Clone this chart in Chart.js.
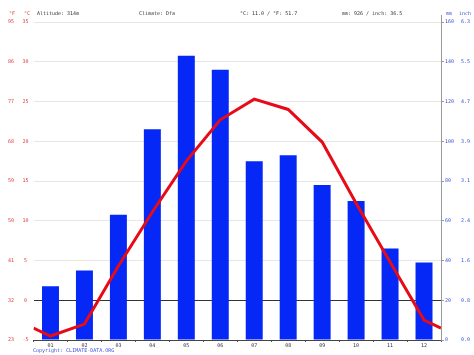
<!DOCTYPE html>
<html>
<head>
<meta charset="utf-8">
<script src="https://cdn.jsdelivr.net/npm/chart.js@4"></script>
<style>
  html, body { margin:0; padding:0; background:#fff; }
  #wrap { position:relative; width:474px; height:355px; overflow:hidden; }
  canvas { position:absolute; left:0; top:0; }
  .t { position:absolute; font-family:"DejaVu Sans Mono", monospace; font-size:5px; line-height:5px; white-space:pre; }
</style>
</head>
<body>
<div id="wrap">
  <canvas id="c" width="474" height="355"></canvas>
  <div class="t" style="left:9px;top:11px;color:#e03a3a">°F</div>
  <div class="t" style="left:24px;top:11px;color:#e03a3a">°C</div>
  <div class="t" style="left:37px;top:11px;color:#333">Altitude: 314m</div>
  <div class="t" style="left:139px;top:11px;color:#333">Climate: Dfa</div>
  <div class="t" style="left:240px;top:11px;color:#333">°C: 11.0 / °F: 51.7</div>
  <div class="t" style="left:342px;top:11px;color:#333">mm: 926 / inch: 36.5</div>
  <div class="t" style="left:446px;top:11px;color:#3a52d8">mm</div>
  <div class="t" style="left:459px;top:11px;color:#3a52d8">inch</div>
  <div class="t" style="left:33px;top:348px;color:#3a52d8">Copyright: CLIMATE-DATA.ORG</div>
</div>
<script>
const months = ['01','02','03','04','05','06','07','08','09','10','11','12'];
const precipMm = [27, 35, 63, 106, 143, 136, 90, 93, 78, 70, 46, 39];
const tempC = [-4.5, -3.0, 4.3, 11.1, 17.5, 22.7, 25.3, 24.0, 19.9, 12.2, 4.8, -2.5];
const tempTicksC = [-5, 0, 5, 10, 15, 20, 25, 30, 35];
const precipTicksMm = [0, 20, 40, 60, 80, 100, 120, 140, 160];

// temperature line wraps around the year at the chart edges (Dec/Jan join)
const edgeT = (tempC[0] + tempC[tempC.length - 1]) / 2;
const linePts = [{x: 0.5, y: edgeT}]
  .concat(tempC.map((v, i) => ({x: i + 1, y: v})))
  .concat([{x: months.length + 0.5, y: edgeT}]);

const FONT = {family: 'DejaVu Sans Mono', size: 5};
const RED = '#e03a3a', BLUE = '#3a52d8';

const axisExt = {
  id: 'axisExt',
  afterDraw(chart) {
    const ctx = chart.ctx, a = chart.chartArea;
    ctx.save();
    ctx.strokeStyle = '#999';
    ctx.lineWidth = 1;
    ctx.beginPath();
    ctx.moveTo(Math.round(a.right) + 0.5, 15);
    ctx.lineTo(Math.round(a.right) + 0.5, a.top);
    ctx.stroke();
    ctx.restore();
  }
};

new Chart(document.getElementById('c'), {
  type: 'bar',
  data: {
    labels: months,
    datasets: [
      {
        type: 'line', label: 'Temperature', data: linePts,
        xAxisID: 'xl', yAxisID: 'yT',
        borderColor: '#e60b16', borderWidth: 3, pointRadius: 0, tension: 0, order: 0
      },
      {
        type: 'bar', label: 'Precipitation', data: precipMm,
        xAxisID: 'x', yAxisID: 'yP', grouped: false,
        backgroundColor: '#0528f7', barPercentage: 0.5, categoryPercentage: 1, order: 1
      }
    ]
  },
  options: {
    responsive: false, animation: false, devicePixelRatio: 1,
    layout: {padding: {top: 22, left: 0, right: 0, bottom: 0}},
    plugins: {legend: {display: false}, tooltip: {enabled: false}},
    scales: {
      x: {
        type: 'category', position: 'bottom', offset: true,
        grid: {display: true, drawOnChartArea: false, drawTicks: true, tickLength: 2, color: '#555', offset: true},
        border: {display: true, color: '#444', width: 1},
        ticks: {font: FONT, color: '#333', padding: 1, maxRotation: 0, autoSkip: false},
        afterFit(s) { s.height = 15; }
      },
      xl: {
        type: 'linear', display: false, min: 0.5, max: 12.5, offset: false,
        grid: {offset: false}
      },
      yT: {
        type: 'linear', position: 'left', min: -5, max: 35,
        afterBuildTicks(s) { s.ticks = tempTicksC.map(v => ({value: v})); },
        grid: {
          drawTicks: false,
          color: c => (c.tick && c.tick.value === 0) ? '#333' : '#e6e6e6',
          lineWidth: 1
        },
        border: {display: false},
        ticks: {font: FONT, color: RED, padding: 5, crossAlign: 'center'},
        afterFit(s) { s.width = 14.5; }
      },
      yF: {
        type: 'linear', position: 'left', min: -5, max: 35,
        afterBuildTicks(s) { s.ticks = tempTicksC.map(v => ({value: v})); },
        grid: {display: false, drawTicks: false},
        border: {display: false},
        ticks: {font: FONT, color: RED, padding: 5, crossAlign: 'center',
          callback: v => String(Math.round(v * 9 / 5 + 32))},
        afterFit(s) { s.width = 19; }
      },
      yP: {
        type: 'linear', position: 'right', min: 0, max: 160,
        afterBuildTicks(s) { s.ticks = precipTicksMm.map(v => ({value: v})); },
        grid: {drawOnChartArea: false, drawTicks: true, tickLength: 3, color: '#999'},
        border: {display: true, color: '#999', width: 1},
        ticks: {font: FONT, color: BLUE, padding: 1},
        afterFit(s) { s.width = 16; }
      },
      yI: {
        type: 'linear', position: 'right', min: 0, max: 160,
        afterBuildTicks(s) { s.ticks = precipTicksMm.map(v => ({value: v})); },
        grid: {display: false, drawTicks: false},
        border: {display: false},
        ticks: {font: FONT, color: BLUE, padding: 4,
          callback: v => (v / 25.4).toFixed(1)},
        afterFit(s) { s.width = 17; }
      }
    }
  },
  plugins: [axisExt]
});
</script>
</body>
</html>
